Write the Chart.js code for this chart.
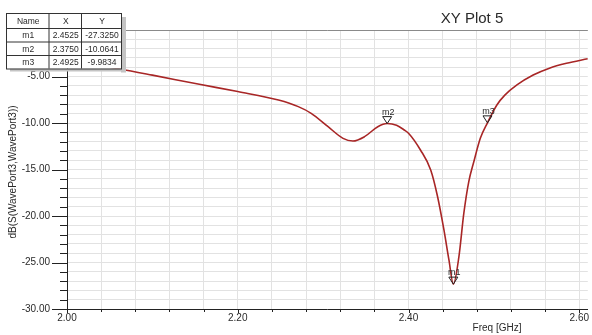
<!DOCTYPE html>
<html>
<head>
<meta charset="utf-8">
<script src="https://cdn.jsdelivr.net/npm/chart.js@4"></script>
<style>
  html, body { margin: 0; padding: 0; background: #fff; }
  #plot { display: block; }
</style>
</head>
<body>
<canvas id="plot" width="592" height="335"></canvas>
<script>
// curve: frequency in GHz, dB(S(WavePort3,WavePort3))
const freqs = [2.000, 2.030, 2.062, 2.100, 2.155, 2.200, 2.2477, 2.2709, 2.286, 2.3058, 2.3233, 2.3349,
               2.3485, 2.364, 2.375, 2.386, 2.395, 2.400, 2.414, 2.426, 2.434, 2.4415, 2.4473, 2.4525,
               2.459, 2.4648, 2.4706, 2.4764, 2.4841, 2.4925, 2.5035, 2.5128, 2.527, 2.546, 2.565, 2.585, 2.610];
const dbVals = [-3.20, -3.70, -4.19, -4.85, -5.84, -6.62, -7.53, -8.24, -8.96, -10.40, -11.65, -11.94,
                -11.47, -10.40, -10.06, -10.25, -10.75, -11.10, -12.90, -15.05, -17.90, -21.50, -24.70, -27.33,
                -24.40, -19.70, -16.30, -14.20, -11.65, -9.98, -8.06, -7.00, -5.90, -4.84, -4.10, -3.58, -3.10];

// markers
const markerNames = ['m1', 'm2', 'm3'];
const markerX = [2.4525, 2.3750, 2.4925];
const markerY = [-27.3250, -10.0641, -9.9834];

// axes
const xGridTicks = [];
for (let i = 0; i <= 15; i++) xGridTicks.push(+(2 + i * 0.04).toFixed(2));
const xLabelTicks = [2.00, 2.20, 2.40, 2.60];
const yGridTicks = [];
for (let v = -30; v <= 0; v++) yGridTicks.push(v);
const yLabelTicks = [-30, -25, -20, -15, -10, -5];

const curveColor = '#a82626';
const textColor = '#2a2a2a';
const fontFam = '"Liberation Sans", Arial, sans-serif';

Chart.defaults.font.family = fontFam;
Chart.defaults.color = textColor;

const hasVal = (arr, v) => arr.some(a => Math.abs(a - v) < 1e-6);

const extras = {
    id: 'extras',
    afterDatasetsDraw(chart) {
        const ctx = chart.ctx;
        const xs = chart.scales.x, ys = chart.scales.y;
        const area = chart.chartArea;
        ctx.save();

        // top frame line
        ctx.strokeStyle = '#8a8a8a';
        ctx.lineWidth = 1;
        ctx.beginPath();
        ctx.moveTo(area.left, area.top + 0.5);
        ctx.lineTo(area.right, area.top + 0.5);
        ctx.stroke();

        // tick marks
        ctx.strokeStyle = '#222';
        ctx.beginPath();
        yGridTicks.forEach(v => {
            const py = Math.round(ys.getPixelForValue(v)) + 0.5;
            const len = (v % 5 === 0) ? 15 : 7;
            ctx.moveTo(area.left - len, py);
            ctx.lineTo(area.left, py);
        });
        xGridTicks.forEach(v => {
            const px = Math.round(xs.getPixelForValue(v)) + 0.5;
            const len = hasVal(xLabelTicks, v) ? 4 : 3;
            ctx.moveTo(px, area.bottom);
            ctx.lineTo(px, area.bottom + len);
        });
        ctx.stroke();

        // markers
        ctx.font = '9px ' + fontFam;
        ctx.fillStyle = textColor;
        ctx.textAlign = 'center';
        ctx.textBaseline = 'alphabetic';
        markerNames.forEach((n, i) => {
            const px = xs.getPixelForValue(markerX[i]);
            const py = ys.getPixelForValue(markerY[i]);
            ctx.beginPath();
            ctx.moveTo(px - 4.5, py - 7);
            ctx.lineTo(px + 4.5, py - 7);
            ctx.lineTo(px, py);
            ctx.closePath();
            ctx.strokeStyle = '#222';
            ctx.stroke();
            ctx.fillText(n, px + 1, py - 9);
        });

        // title
        ctx.font = '15px ' + fontFam;
        ctx.textBaseline = 'middle';
        ctx.fillText('XY Plot 5', 472, 19);

        // axis titles
        ctx.font = '10px ' + fontFam;
        ctx.fillText('Freq [GHz]', 497, 328);
        ctx.save();
        ctx.translate(13, 172);
        ctx.rotate(-Math.PI / 2);
        ctx.fillText('dB(S(WavePort3,WavePort3))', 0, 0);
        ctx.restore();

        // marker table
        const cols = [6, 48.5, 81, 121];
        const rows = [13, 28, 41.5, 55, 68.5];
        ctx.fillStyle = '#c4c4c4';
        ctx.fillRect(cols[3], rows[0] + 4, 5, rows[4] - rows[0]);
        ctx.fillRect(cols[0] + 4, rows[4], cols[3] - cols[0] + 1, 3);
        ctx.fillStyle = '#fff';
        ctx.fillRect(cols[0], rows[0], cols[3] - cols[0], rows[4] - rows[0]);
        ctx.strokeStyle = '#333';
        ctx.lineWidth = 1;
        ctx.strokeRect(cols[0] + 0.5, rows[0] + 0.5, cols[3] - cols[0], rows[4] - rows[0]);
        ctx.beginPath();
        cols.slice(1, 3).forEach(c => { ctx.moveTo(c + 0.5, rows[0]); ctx.lineTo(c + 0.5, rows[4]); });
        rows.slice(1, 4).forEach(r => { ctx.moveTo(cols[0], r + 0.5); ctx.lineTo(cols[3], r + 0.5); });
        ctx.stroke();
        ctx.fillStyle = textColor;
        ctx.font = '8.5px ' + fontFam;
        const cells = [['Name', 'X', 'Y']];
        markerNames.forEach((n, i) => cells.push([n, markerX[i].toFixed(4), markerY[i].toFixed(4)]));
        cells.forEach((row, r) => {
            row.forEach((t, c) => {
                ctx.fillText(t, (cols[c] + cols[c + 1]) / 2 + 1, (rows[r] + rows[r + 1]) / 2 + 1);
            });
        });

        ctx.restore();
    }
};

new Chart(document.getElementById('plot'), {
    type: 'scatter',
    data: {
        datasets: [{
            data: freqs.map((f, i) => ({ x: f, y: dbVals[i] })),
            showLine: true,
            borderColor: curveColor,
            borderWidth: 1.6,
            pointRadius: 0,
            cubicInterpolationMode: 'monotone'
        }]
    },
    options: {
        responsive: false,
        animation: false,
        devicePixelRatio: 1,
        layout: { padding: { top: 30, left: 0, right: 0, bottom: 0 } },
        plugins: { legend: { display: false }, title: { display: false }, tooltip: { enabled: false } },
        scales: {
            x: {
                type: 'linear',
                min: 2.0,
                max: 2.61,
                afterBuildTicks: s => { s.ticks = xGridTicks.map(v => ({ value: v })); },
                afterFit: s => { s.height = 26; },
                ticks: {
                    autoSkip: false,
                    maxRotation: 0,
                    padding: 3,
                    font: { size: 10 },
                    color: textColor,
                    callback: v => hasVal(xLabelTicks, v) ? v.toFixed(2) : ''
                },
                grid: { color: '#e2e2e2', drawTicks: false },
                border: { color: '#222', width: 1 }
            },
            y: {
                min: -30,
                max: 0,
                afterBuildTicks: s => { s.ticks = yGridTicks.map(v => ({ value: v })); },
                afterFit: s => { s.width = 67; },
                ticks: {
                    autoSkip: false,
                    padding: 17,
                    font: { size: 10 },
                    color: textColor,
                    callback: v => hasVal(yLabelTicks, v) ? v.toFixed(2) : ''
                },
                grid: { color: '#e2e2e2', drawTicks: false },
                border: { color: '#222', width: 1 }
            }
        }
    },
    plugins: [extras]
});
</script>
</body>
</html>
